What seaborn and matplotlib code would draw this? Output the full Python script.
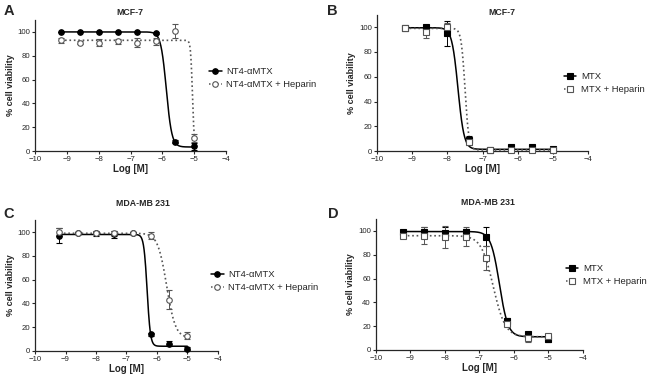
import numpy as np
import pandas as pd
import seaborn as sns
import matplotlib.pyplot as plt
from matplotlib.lines import Line2D

# log concentration of the drug
log_conc = [-9.2, -8.6, -8.0, -7.4, -6.8, -6.2, -5.6, -5.0]

# A : MCF-7, NT4-aMTX
a_drug = [100, 100, 100, 100, 100, 99, 8, 4]
a_drug_err = [0, 0, 0, 0, 0, 1, 1, 3]
a_hep = [93, 91, 91, 92, 91, 92, 101, 11]
a_hep_err = [2, 1, 3, 2, 4, 3, 6, 3]

# B : MCF-7, MTX
b_drug = [99, 100, 95, 9, 1, 3, 3, 2]
b_drug_err = [1, 2, 10, 3, 1, 1, 1, 1]
b_hep = [99, 96, 100, 7, 1, 1, 1, 1]
b_hep_err = [1, 5, 3, 2, 1, 1, 1, 1]

# C : MDA-MB 231, NT4-aMTX
c_drug = [97, 99, 99, 98, 99, 14, 6, 2]
c_drug_err = [6, 1, 2, 3, 1, 1, 2, 1]
c_hep = [100, 99, 99, 99, 99, 97, 43, 13]
c_hep_err = [3, 1, 1, 2, 1, 3, 8, 3]

# D : MDA-MB 231, MTX
d_drug = [99, 99, 98, 99, 95, 24, 13, 9]
d_drug_err = [1, 4, 5, 3, 8, 3, 2, 2]
d_hep = [96, 96, 95, 95, 77, 22, 10, 12]
d_hep_err = [1, 7, 9, 8, 10, 2, 3, 1]

# 4-parameter fit (top, bottom, logIC50, hill)
a_fit = [(100, 3.5, -5.88, 5), (93, 2, -5.06, 15)]
b_fit = [(99.5, 1.5, -7.7, 5), (99, 1, -7.5, 8)]
c_fit = [(98, 4, -6.32, 8), (99, 11, -5.68, 3)]
d_fit = [(99.5, 11, -6.42, 3.5), (96, 11, -6.6, 2.5)]

sns.set_style('ticks')
plt.rcParams['font.family'] = ['Liberation Sans', 'DejaVu Sans']
plt.rcParams['mathtext.fontset'] = 'dejavusans'

fig = plt.figure(figsize=(6.5, 3.77), dpi=100)

panels = [
    dict(letter='A', title='MCF-7', rect=[0.054, 0.599, 0.294, 0.348],
         drug=a_drug, derr=a_drug_err, hep=a_hep, herr=a_hep_err, fit=a_fit,
         marker='o', names=['NT4-αMTX', 'NT4-αMTX + Heparin'],
         leg=(0.322, 0.793), ttl=(0.200, 0.968), let=(0.005, 0.972)),
    dict(letter='B', title='MCF-7', rect=[0.580, 0.599, 0.325, 0.362],
         drug=b_drug, derr=b_drug_err, hep=b_hep, herr=b_hep_err, fit=b_fit,
         marker='s', names=['MTX', 'MTX + Heparin'],
         leg=(0.868, 0.780), ttl=(0.772, 0.968), let=(0.503, 0.972)),
    dict(letter='C', title='MDA-MB 231', rect=[0.054, 0.069, 0.281, 0.347],
         drug=c_drug, derr=c_drug_err, hep=c_hep, herr=c_hep_err, fit=c_fit,
         marker='o', names=['NT4-αMTX', 'NT4-αMTX + Heparin'],
         leg=(0.325, 0.254), ttl=(0.220, 0.459), let=(0.005, 0.432)),
    dict(letter='D', title='MDA-MB 231', rect=[0.578, 0.072, 0.319, 0.347],
         drug=d_drug, derr=d_drug_err, hep=d_hep, herr=d_hep_err, fit=d_fit,
         marker='s', names=['MTX', 'MTX + Heparin'],
         leg=(0.871, 0.270), ttl=(0.750, 0.462), let=(0.505, 0.432)),
]

grey = '#555555'
xs = np.linspace(log_conc[0], log_conc[-1], 400)

for p in panels:
    ax = fig.add_axes(p['rect'])
    styles = [dict(color='black', ls='-', mfc='black', mec='black', ecol='black'),
              dict(color=grey, ls=':', mfc='white', mec=grey, ecol=grey)]
    series = [(p['drug'], p['derr']), (p['hep'], p['herr'])]
    handles = []
    for (vals, errs), (top, bot, ic50, hill), st, name in zip(series, p['fit'], styles, p['names']):
        curve = pd.DataFrame({'x': xs,
                              'y': bot + (top - bot) / (1 + 10 ** ((xs - ic50) * hill))})
        sns.lineplot(data=curve, x='x', y='y', ax=ax, color=st['color'],
                     linestyle=st['ls'], lw=1.1 if st['ls'] == '-' else 1.2)
        ax.errorbar(log_conc, vals, yerr=errs, fmt=p['marker'], ms=4,
                    mfc=st['mfc'], mec=st['mec'], mew=0.8, ecolor=st['ecol'],
                    elinewidth=0.7, capsize=2, capthick=0.7, clip_on=False, zorder=3)
        handles.append(Line2D([], [], color=st['color'], ls=st['ls'], lw=1.1,
                              marker=p['marker'], ms=4, mfc=st['mfc'],
                              mec=st['mec'], mew=0.8))
    ax.set_xlim(-10, -4)
    ax.set_ylim(0, 110)
    ax.set_xticks(range(-10, -3))
    ax.set_yticks(range(0, 101, 20))
    ax.tick_params(labelsize=5.6, length=2.5, width=0.8, pad=1)
    for s in ['left', 'bottom']:
        ax.spines[s].set_linewidth(0.9)
    sns.despine(ax=ax)
    ax.set_xlabel('Log [M]', fontsize=7, fontweight='bold', labelpad=1)
    ax.set_ylabel('% cell viability', fontsize=6.5, fontweight='bold', labelpad=2)
    ax.legend(handles, p['names'], loc='center left', bbox_to_anchor=p['leg'],
              bbox_transform=fig.transFigure, frameon=False, fontsize=6.8,
              handlelength=1.3, handletextpad=0.5, labelspacing=0.4,
              borderaxespad=0, borderpad=0)
    fig.text(p['ttl'][0], p['ttl'][1], p['title'], fontsize=6.3,
             fontweight='bold', ha='center', va='center')
    fig.text(p['let'][0], p['let'][1], p['letter'], fontsize=10.5,
             fontweight='bold', ha='left', va='center')

fig.savefig('out.png', dpi=100)
